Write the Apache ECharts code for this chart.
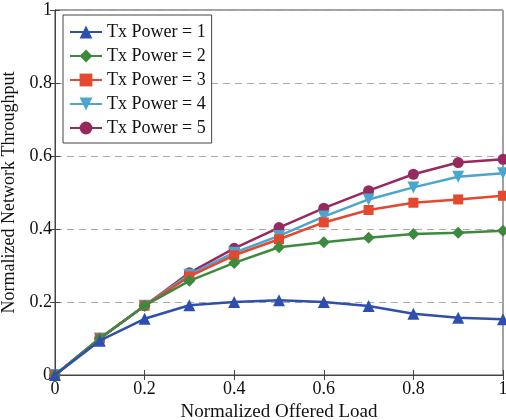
<!DOCTYPE html>
<html>
<head>
<meta charset="utf-8">
<script src="https://cdn.jsdelivr.net/npm/echarts@6/dist/echarts.min.js"></script>
<style>
  html, body { margin: 0; padding: 0; background: #fff; }
  #chart { width: 506px; height: 420px; }
</style>
</head>
<body>
<div id="chart"></div>
<script>
// offered load (x) and throughput per transmit power
const load = [0, 0.1, 0.2, 0.3, 0.4, 0.5, 0.6, 0.7, 0.8, 0.9, 1.0]
const txPower1 = [0, 0.094, 0.154, 0.191, 0.2, 0.205, 0.2, 0.189, 0.168, 0.157, 0.153]
const txPower2 = [0, 0.1, 0.19, 0.258, 0.307, 0.35, 0.364, 0.376, 0.386, 0.39, 0.395]
const txPower3 = [0, 0.1, 0.19, 0.27, 0.328, 0.372, 0.418, 0.452, 0.472, 0.481, 0.491]
const txPower4 = [0, 0.1, 0.19, 0.275, 0.335, 0.381, 0.434, 0.481, 0.514, 0.543, 0.553]
const txPower5 = [0, 0.1, 0.19, 0.28, 0.347, 0.404, 0.457, 0.505, 0.55, 0.582, 0.591]
const seriesNames = ['Tx Power = 1', 'Tx Power = 2', 'Tx Power = 3', 'Tx Power = 4', 'Tx Power = 5']
const colors = ['#2f4fae', '#3d8a3f', '#e4482e', '#4ba6cf', '#962a5e']
const symbols = ['triangle', 'diamond', 'rect', 'triangle', 'circle']
const rotations = [0, 0, 0, 180, 0]
const symbolSizes = [12, 12, 10, 12, 11]

const font = 'Liberation Serif, DejaVu Serif, serif'
const allData = [txPower1, txPower2, txPower3, txPower4, txPower5]

const chart = echarts.init(document.getElementById('chart'))

const series = allData.map((vals, i) => ({
  name: seriesNames[i],
  type: 'line',
  data: vals.map((v, j) => [load[j], v]),
  symbol: symbols[i],
  symbolRotate: rotations[i],
  symbolSize: symbolSizes[i],
  showAllSymbol: true,
  color: colors[i],
  lineStyle: { width: 2.5, color: colors[i] },
  itemStyle: { color: colors[i] },
  z: 10 - i
}))

const tickStyle = { show: true, inside: true, length: 5, lineStyle: { color: '#444' } }

const option = {
  backgroundColor: '#fff',
  animation: false,
  textStyle: { fontFamily: font },
  grid: {
    left: 55, right: 3, top: 10, bottom: 45,
    outerBoundsMode: 'none',
    containLabel: false,
    show: true, borderColor: '#444', borderWidth: 1, backgroundColor: 'transparent'
  },
  legend: {
    orient: 'vertical',
    left: 63, top: 15,
    backgroundColor: '#fff',
    borderColor: '#444',
    borderWidth: 1,
    padding: [8, 6, 6, 6],
    itemGap: 6,
    itemWidth: 32,
    itemHeight: 16,
    textStyle: { fontFamily: font, fontSize: 18, color: '#111' },
    data: seriesNames
  },
  xAxis: [{
    type: 'value', min: 0, max: 1, interval: 0.2,
    name: 'Normalized Offered Load', nameLocation: 'middle', nameGap: 28,
    nameTextStyle: { fontFamily: font, fontSize: 19, color: '#111' },
    axisLine: { show: true, onZero: false, lineStyle: { color: '#444' } },
    axisTick: tickStyle,
    axisLabel: { fontFamily: font, fontSize: 18, color: '#111', margin: 5 },
    splitLine: { show: false }
  }, {
    type: 'value', min: 0, max: 1, interval: 0.2, position: 'top',
    axisLine: { show: true, lineStyle: { color: '#444' } },
    axisTick: tickStyle,
    axisLabel: { show: false },
    splitLine: { show: false }
  }],
  yAxis: [{
    type: 'value', min: 0, max: 1, interval: 0.2,
    name: 'Normalized Network Throughput', nameLocation: 'middle', nameGap: 35,
    nameTextStyle: { fontFamily: font, fontSize: 18, color: '#111' },
    axisLine: { show: true, onZero: false, lineStyle: { color: '#444' } },
    axisTick: tickStyle,
    axisLabel: { fontFamily: font, fontSize: 18, color: '#111', margin: 3 },
    splitLine: { show: true, lineStyle: { type: [7, 5], color: '#aaa', width: 1.2 } }
  }, {
    type: 'value', min: 0, max: 1, interval: 0.2, position: 'right',
    axisLine: { show: true, lineStyle: { color: '#444' } },
    axisTick: tickStyle,
    axisLabel: { show: false },
    splitLine: { show: false }
  }],
  series: series
}

chart.setOption(option)
</script>
</body>
</html>
